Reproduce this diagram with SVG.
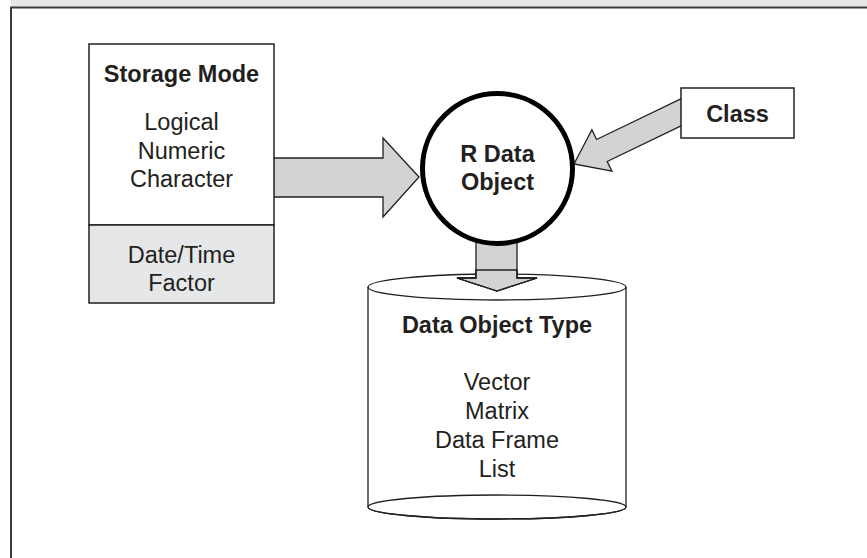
<svg xmlns="http://www.w3.org/2000/svg" width="867" height="558" viewBox="0 0 867 558">
<style>
.t{font-family:"Liberation Sans",Arial,sans-serif;font-size:23.5px;fill:#231f20;text-anchor:middle}
.b{font-weight:bold}
.arrow{fill:#d1d3d4;stroke:#231f20;stroke-width:1.3;stroke-linejoin:miter}
.box{fill:#fff;stroke:#231f20;stroke-width:1.5}
</style>
<rect x="0" y="0" width="867" height="558" fill="#fff"/>
<g id="frame">
<rect x="11" y="0" width="856" height="7" fill="#e6e7e8"/>
<path d="M11,558 V7.5 H867" fill="none" stroke="#3a3a3a" stroke-width="2"/>
</g>
<g id="connectors">
<polygon class="arrow" points="268,158 383,158 383,138 419,177 383,217 383,197 268,197"/>
<polygon class="arrow" points="694.8,92.2 596.6,139.5 591.9,129.8 574,164 611.9,171.2 607.2,161.5 705.4,114.2"/>
<polygon class="arrow" points="476,240 517,240 517,278 537,278 497,291 457,278 476,278"/>
</g>
<g id="storage-mode">
<rect class="box" x="89" y="44" width="185" height="181"/>
<rect x="89" y="225" width="185" height="78" fill="#e6e7e8" stroke="#231f20" stroke-width="1.5"/>
<text class="t b" x="181.5" y="82">Storage Mode</text>
<text class="t" x="181.5" y="130">Logical</text>
<text class="t" x="181.5" y="158.5">Numeric</text>
<text class="t" x="181.5" y="187">Character</text>
<text class="t" x="181.5" y="263">Date/Time</text>
<text class="t" x="181.5" y="291">Factor</text>
</g>
<g id="class">
<rect class="box" x="681" y="88" width="113" height="50"/>
<text class="t b" x="737.5" y="122">Class</text>
</g>
<g id="r-data-object">
<circle cx="497.5" cy="168.5" r="75" fill="#fff" stroke="#000" stroke-width="5"/>
<text class="t b" x="497.5" y="162">R Data</text>
<text class="t b" x="497.5" y="190">Object</text>
</g>
<g id="data-object-type">
<path d="M368,287 V507 A129,12 0 0 0 626,507 V287" fill="#fff" stroke="#231f20" stroke-width="1.3"/>
<ellipse cx="497" cy="507" rx="129" ry="12" fill="none" stroke="#231f20" stroke-width="1.3"/>
<ellipse cx="497" cy="287" rx="129" ry="13" fill="none" stroke="#231f20" stroke-width="1.3"/>
<polygon class="arrow" points="476,270 517,270 517,278 537,278 497,291 457,278 476,278" stroke="none"/>
<path d="M476,270 V278 H457 L497,291 L537,278 H517 V270" fill="none" stroke="#231f20" stroke-width="1.3"/>
<text class="t b" x="497" y="333">Data Object Type</text>
<text class="t" x="497" y="390">Vector</text>
<text class="t" x="497" y="419">Matrix</text>
<text class="t" x="497" y="448">Data Frame</text>
<text class="t" x="497" y="477">List</text>
</g>
</svg>
